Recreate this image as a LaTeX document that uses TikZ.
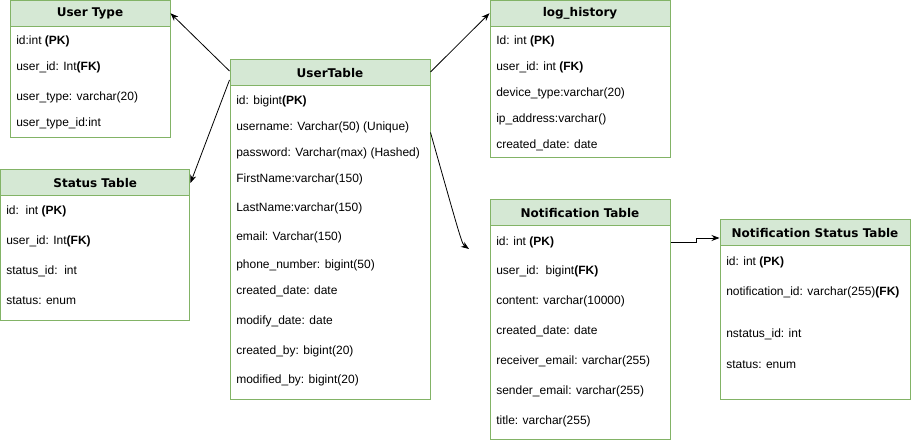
\documentclass[tikz,border=0pt]{standalone}
\usepackage{fontspec}
\setmainfont{Liberation Sans}
\newfontfamily\headfont{DejaVu Sans}
\usetikzlibrary{arrows.meta}
\definecolor{headgreen}{HTML}{D5E8D4}
\definecolor{linegreen}{HTML}{82B366}

\begin{document}
\begin{tikzpicture}[x=0.75pt,y=-0.75pt,
    head/.style={draw=linegreen, fill=headgreen, line width=0.75pt, inner sep=0pt,
      font=\headfont\bfseries\fontsize{9}{11}\selectfont},
    tbody/.style={draw=linegreen, line width=0.75pt, inner sep=0pt},
    field/.style={anchor=west, inner sep=0pt, yshift=-0.9pt, font=\fontsize{9}{11}\selectfont},
    link/.style={-{Stealth[length=6pt,width=4.5pt]}, line width=0.6pt}]
    \useasboundingbox (0,0) rectangle (911,441);
    % User Type
    \node[tbody, minimum width=120pt, minimum height=84pt] (typebody) at (90,82) {};
    \node[head, minimum width=120pt, minimum height=19.5pt] (typehead) at (90,13.25) {User Type};
    \node[field] (type1) at (16,40) {id:int \textbf{(PK)}};
    \node[field] (type2) at (16,66) {user\_id: Int\textbf{(FK)}};
    \node[field] (type3) at (16,96) {user\_type: varchar(20)};
    \node[field] (type4) at (16,122) {user\_type\_id:int};
    % Status Table
    \node[tbody, minimum width=142.1pt, minimum height=93.75pt] (statusbody) at (95.25,258.5) {};
    \node[head, minimum width=142.1pt, minimum height=19.5pt] (statushead) at (95.25,183) {Status Table};
    \node[field] (status1) at (6,210) {id:\ \ int \textbf{(PK)}};
    \node[field] (status2) at (6,240) {user\_id: Int\textbf{(FK)}};
    \node[field] (status3) at (6,270) {status\_id:\ \ int};
    \node[field] (status4) at (6,299) {status: enum};
    % UserTable
    \node[tbody, minimum width=150pt, minimum height=235.5pt] (userbody) at (330,243) {};
    \node[head, minimum width=150pt, minimum height=19.5pt] (userhead) at (330,73) {UserTable};
    \node[field] (user1) at (236,100) {id: bigint\textbf{(PK)}};
    \node[field] (user2) at (236,126) {username: Varchar(50) (Unique)};
    \node[field] (user3) at (236,152) {password: Varchar(max) (Hashed)};
    \node[field] (user4) at (236,178) {FirstName:varchar(150)};
    \node[field] (user5) at (236,207) {LastName:varchar(150)};
    \node[field] (user6) at (236,236) {email: Varchar(150)};
    \node[field] (user7) at (236,264) {phone\_number: bigint(50)};
    \node[field] (user8) at (236,290) {created\_date: date};
    \node[field] (user9) at (236,320) {modify\_date: date};
    \node[field] (user10) at (236,350) {created\_by: bigint(20)};
    \node[field] (user11) at (236,379) {modified\_by: bigint(20)};
    % log_history
    \node[tbody, minimum width=135pt, minimum height=99pt] (logbody) at (580,92) {};
    \node[head, minimum width=135pt, minimum height=19.5pt] (loghead) at (580,13.25) {log\_history};
    \node[field] (log1) at (496,40) {Id: int \textbf{(PK)}};
    \node[field] (log2) at (496,66) {user\_id: int \textbf{(FK)}};
    \node[field] (log3) at (496,92) {device\_type:varchar(20)};
    \node[field] (log4) at (496,118) {ip\_address:varchar()};
    \node[field] (log5) at (496,144) {created\_date: date};
    % Notification Table
    \node[tbody, minimum width=135pt, minimum height=160.5pt] (notifbody) at (580,333) {};
    \node[head, minimum width=135pt, minimum height=19.5pt] (notifhead) at (580,213) {Notification Table};
    \node[field] (notif1) at (496,241) {id: int \textbf{(PK)}};
    \node[field] (notif2) at (496,270) {user\_id:\ \ bigint\textbf{(FK)}};
    \node[field] (notif3) at (496,300) {content: varchar(10000)};
    \node[field] (notif4) at (496,330) {created\_date: date};
    \node[field] (notif5) at (496,360) {receiver\_email: varchar(255)};
    \node[field] (notif6) at (496,390) {sender\_email: varchar(255)};
    \node[field] (notif7) at (496,420) {title: varchar(255)};
    % Notification Status Table
    \node[tbody, minimum width=142.5pt, minimum height=115.5pt] (nstbody) at (815,323) {};
    \node[head, minimum width=142.5pt, minimum height=19.5pt] (nsthead) at (815,233) {Notification Status Table};
    \node[field] (nst1) at (726,261) {id: int \textbf{(PK)}};
    \node[field] (nst2) at (726,291) {notification\_id: varchar(255)\textbf{(FK)}};
    \node[field] (nst3) at (726,333) {nstatus\_id: int};
    \node[field] (nst4) at (726,363) {status: enum};
    % links
    \coordinate (notifend) at (469,249);
    \draw[link] ([yshift=1.5pt]userhead.west) -- (typehead.east);
    \draw[link] ([yshift=-5.25pt]userhead.west) -- (statushead.east);
    \draw[link] ([yshift=0.75pt]userhead.east) -- (loghead.west);
    \draw[link] ([yshift=-35.25pt]userbody.north east) .. controls (462,244) .. (notifend);
    \draw[link] (notifbody.east |- notif1) -- ++(19.5pt,0) |- ([yshift=-3.75pt]nsthead.west);
\end{tikzpicture}
\end{document}
